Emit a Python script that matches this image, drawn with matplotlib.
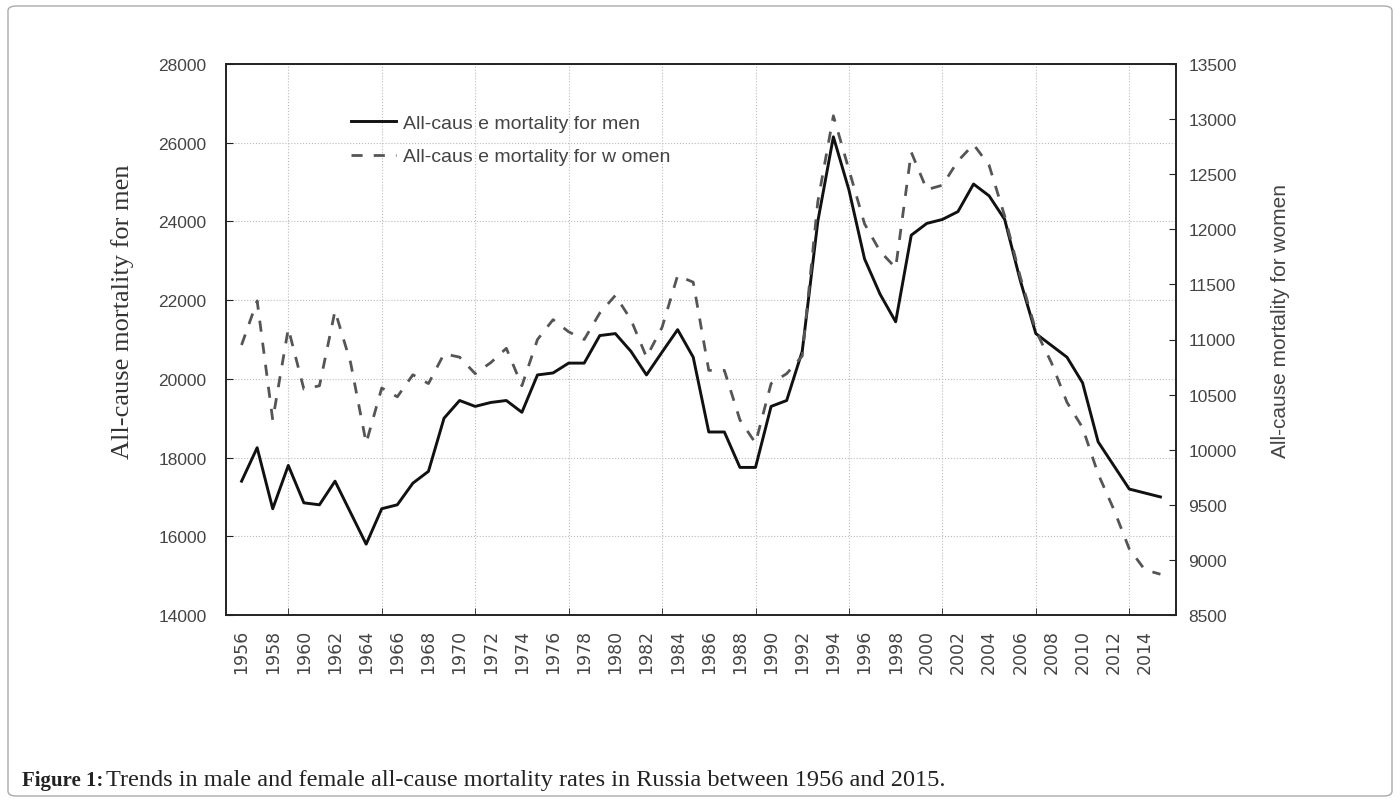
import matplotlib
matplotlib.use("Agg")
import matplotlib.pyplot as plt
from matplotlib.patches import FancyBboxPatch

# Data (1956-2015)
years = list(range(1956, 2016))
men = [17400, 18250, 16700, 17800, 16850, 16800, 17400, 16600, 15800, 16700,
       16800, 17350, 17650, 19000, 19450, 19300, 19400, 19450, 19150, 20100,
       20150, 20400, 20400, 21100, 21150, 20700, 20100, 20680, 21250, 20550,
       18650, 18650, 17750, 17750, 19300, 19450, 20700, 24000, 26150, 24800,
       23050, 22150, 21450, 23650, 23950, 24050, 24250, 24950, 24650, 24050,
       22500, 21150, 20850, 20550, 19900, 18400, 17800, 17200, 17100, 17000]
women = [10950, 11350, 10270, 11100, 10550, 10580, 11260, 10790, 10060, 10560,
         10480, 10680, 10600, 10870, 10840, 10690, 10790, 10920, 10580, 11000,
         11180, 11070, 11000, 11240, 11400, 11180, 10840, 11110, 11580, 11520,
         10720, 10720, 10270, 10060, 10600, 10690, 10850, 12250, 13030, 12540,
         12050, 11800, 11650, 12700, 12360, 12400, 12620, 12770, 12580, 12120,
         11570, 11080, 10790, 10430, 10200, 9780, 9460, 9100, 8910, 8870]

label_years = list(range(1956, 2015, 2))
grid_years = list(range(1956, 2015, 3))
men_ticks = list(range(14000, 28001, 2000))
women_ticks = list(range(8500, 13501, 500))

W, H = 1400, 803
fig = plt.figure(figsize=(W / 100, H / 100), dpi=100)
ax = fig.add_axes([226 / W, 1 - 616 / H, 950 / W, 551 / H])
ax2 = ax.twinx()

tick_col = "#444444"
sans = ["Liberation Sans", "DejaVu Sans"]
serif = ["Liberation Serif", "DejaVu Serif"]

l1, = ax.plot(years, men, color="#111111", lw=2.1, zorder=3)
l2, = ax2.plot(years, women, color="#555555", lw=2.0, dashes=(4, 4), zorder=3)

ax.set_xlim(1955, 2016)
ax.set_ylim(14000, 28000)
ax2.set_ylim(8500, 13500)

# labels every 2 years, tick marks and grid every 3 years
ax.set_xticks(label_years)
ax.set_xticklabels([str(y) for y in label_years], rotation=90,
                   fontsize=12.5, color=tick_col, family=["DejaVu Sans"])
ax.tick_params(axis="x", which="major", length=0, pad=10)
ax.set_xticks(grid_years, minor=True)
ax.tick_params(axis="x", which="minor", direction="in", length=5, color="#222222")
ax.grid(True, which="minor", axis="x", color="#bbbbbb", lw=0.8, ls=":")

ax.set_yticks(men_ticks)
ax.set_yticklabels([str(v) for v in men_ticks], fontsize=12.5, color=tick_col, family=sans)
ax.tick_params(axis="y", direction="in", length=5, pad=14, color="#222222")
ax.grid(True, which="major", axis="y", color="#bbbbbb", lw=0.8, ls=":")

ax2.set_yticks(women_ticks)
ax2.set_yticklabels([str(v) for v in women_ticks], fontsize=12.5, color=tick_col, family=sans)
ax2.tick_params(axis="y", direction="in", length=5, pad=9, color="#222222")

for a in (ax, ax2):
    for s in a.spines.values():
        s.set_color("#222222")
        s.set_linewidth(1.2)

leg = ax2.legend([l1, l2], ["All-caus e mortality for men", "All-caus e mortality for w omen"],
                 loc="upper left", bbox_to_anchor=(0.113, 0.94), frameon=False,
                 handlelength=2.3, handletextpad=0.36, labelspacing=0.8,
                 prop={"family": sans, "size": 14})
for t in leg.get_texts():
    t.set_color("#444444")

fig.text(123 / W, 1 - 312 / H, "All-cause mortality for men", rotation=90,
         ha="center", va="center", fontsize=19, color="#333333", family=serif)
fig.text(1280 / W, 1 - 321 / H, "All-cause mortality for women", rotation=90,
         ha="center", va="center", fontsize=15, color="#444444", family=sans)

fig.text(22 / W, 1 - 781 / H, "Figure 1:", ha="left", va="center", fontsize=15,
         fontweight="bold", color="#222222", family=serif)
fig.text(106 / W, 1 - 781 / H,
         "Trends in male and female all-cause mortality rates in Russia between 1956 and 2015.",
         ha="left", va="center", fontsize=17.5, color="#222222", family=serif)

box = FancyBboxPatch((8 / W, 6 / H), 1384 / W, 790 / H, boxstyle="round,pad=0,rounding_size=0.006",
                     transform=fig.transFigure, fill=False, edgecolor="#aaaaaa", lw=1.0)
fig.patches.append(box)

fig.savefig("out.png", dpi=100)
